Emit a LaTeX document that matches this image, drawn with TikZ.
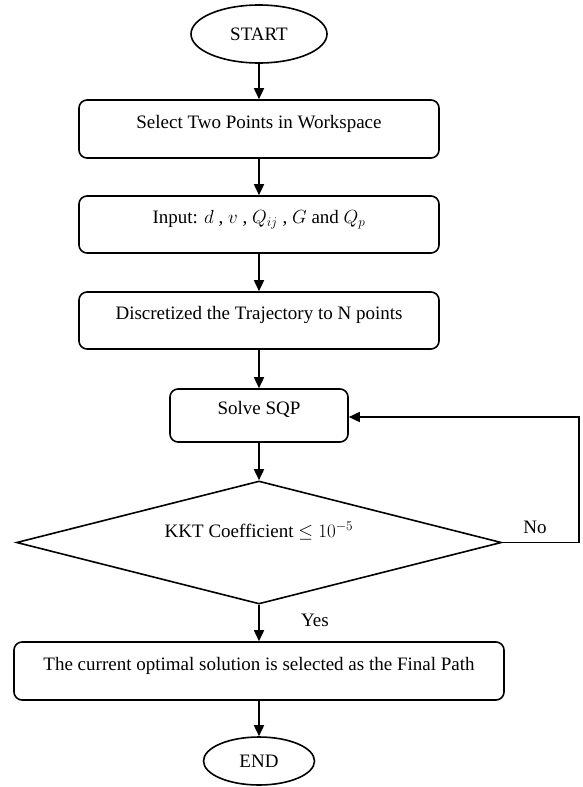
\documentclass[tikz,border=0pt]{standalone}
\usepackage{fix-cm}
\usepackage{fontspec}
\setmainfont{Liberation Serif}
\usetikzlibrary{shapes.geometric,arrows.meta}
\tikzset{
  base/.style={draw=black, line width=1.6pt, inner sep=0pt,
    font=\fontsize{19}{23}\selectfont, text height=12pt, text depth=14pt},
  procbox/.style={base, rectangle, rounded corners=8pt},
  term/.style={base, ellipse, text height=13pt, text depth=0pt},
  decide/.style={base, diamond, aspect=3.94, text height=4pt, text depth=14pt},
  arr/.style={line width=1.6pt, -{Triangle[length=11pt,width=10pt]}},
  lbl/.style={font=\fontsize{19}{23}\selectfont, inner sep=0pt}
}
\begin{document}
\begin{tikzpicture}[x=1pt,y=-1pt]
\useasboundingbox (0,0) rectangle (582,787);
\node[term, minimum width=136pt, minimum height=58pt] (start) at (259,34) {START};
\node[procbox, minimum width=360pt, minimum height=58pt] (b1) at (259,129) {Select Two Points in Workspace};
\node[procbox, minimum width=360pt, minimum height=57pt] (b2) at (259,224.5) {Input: $d$ , $v$ , $Q_{ij}$ , $G$ and $Q_p$};
\node[procbox, minimum width=360pt, minimum height=57pt] (b3) at (259,320.5) {Discretized the Trajectory to N points};
\node[procbox, minimum width=178pt, minimum height=53pt] (solve) at (259,415.5) {Solve SQP};
\node[decide, minimum width=485pt, minimum height=123pt] (dec) at (259,542.5) {KKT Coefficient $\leq 10^{-5}$};
\node[procbox, minimum width=490pt, minimum height=58pt] (fin) at (259,671) {The current optimal solution is selected as the Final Path};
\node[term, minimum width=111pt, minimum height=48pt] (end) at (259,761) {END};
\coordinate (fb) at (579,417);
\node[lbl] (no) at (535,527) {No};
\node[lbl] (yes) at (315,620) {Yes};
\draw[arr] (start) -- (b1);
\draw[arr] (b1) -- (b2);
\draw[arr] (b2) -- (b3);
\draw[arr] (b3) -- (solve);
\draw[arr] (solve) -- (dec);
\draw[arr] (dec) -- (fin);
\draw[arr] (fin) -- (end);
\draw[arr] (dec.east) -- (dec.east -| fb) -- (fb) -- (solve.east |- fb);
\end{tikzpicture}
\end{document}
